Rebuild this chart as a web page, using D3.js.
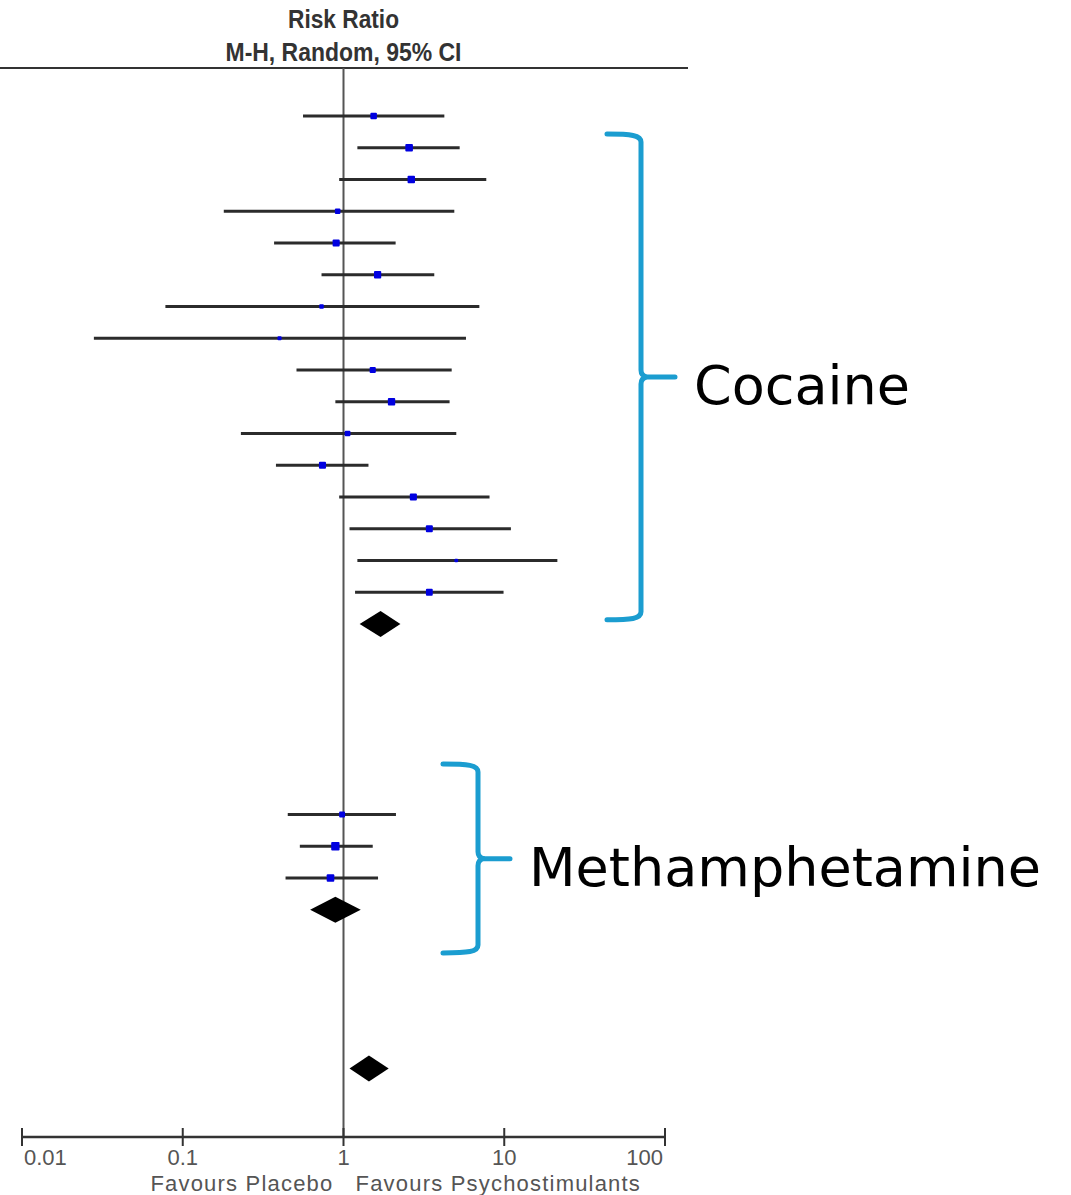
<!DOCTYPE html>
<html>
<head>
<meta charset="utf-8">
<script src="https://cdn.jsdelivr.net/npm/d3@7"></script>
<style>
  body { margin: 0; background: #fff; }
  svg { display: block; }
  .tick-label { font-family: "Liberation Sans", Arial, sans-serif; font-size: 22px; fill: #555; }
  .head { font-family: "Liberation Sans Narrow", "Liberation Sans", Arial, sans-serif; font-weight: bold; fill: #333; }
  .group-label { font-family: "DejaVu Sans", sans-serif; font-size: 54px; fill: #000; }
</style>
</head>
<body>
<div id="forest"></div>
<script>
// study estimates (risk ratio, lower, upper 95% CI) and weights
var cocaine_rr    = [1.54, 2.56, 2.64, 0.92, 0.90, 1.63, 0.73, 0.40, 1.52, 1.99, 1.06, 0.74, 2.72, 3.42, 5.03, 3.42];
var cocaine_lo    = [0.56, 1.22, 0.94, 0.18, 0.37, 0.73, 0.078, 0.028, 0.51, 0.89, 0.23, 0.38, 0.94, 1.09, 1.22, 1.18];
var cocaine_hi    = [4.24, 5.28, 7.73, 4.89, 2.11, 3.67, 7.0, 5.78, 4.71, 4.57, 5.03, 1.43, 8.1, 11.0, 21.4, 9.9];
var cocaine_w     = [5.5, 7.5, 7.2, 4.0, 6.5, 6.8, 2.8, 2.2, 5.0, 7.0, 4.2, 6.5, 6.5, 6.2, 1.8, 6.0];
var cocaine_total = [1.70, 1.26, 2.26];

var meth_rr    = [0.98, 0.89, 0.83];
var meth_lo    = [0.45, 0.535, 0.436];
var meth_hi    = [2.12, 1.52, 1.64];
var meth_w     = [4.5, 9.0, 7.5];
var meth_total = [0.89, 0.62, 1.28];

var overall_total = [1.44, 1.09, 1.91];

var tick_values = [0.01, 0.1, 1, 10, 100];
var tick_labels = ["0.01", "0.1", "1", "10", "100"];
var favours = ["Favours Placebo", "Favours Psychostimulants"];
var header = ["Risk Ratio", "M-H, Random, 95% CI"];
var groups = ["Cocaine", "Methamphetamine"];

// row layout (RevMan style table rows)
var cocaine_start = 0, meth_start = 22, overall_row = 30;

var width = 1071, height = 1195;
var svg = d3.select("#forest").append("svg")
    .attr("width", width)
    .attr("height", height);

var x = d3.scaleLog()
    .domain([0.01, 100])
    .range([22, 665]);

var y = d3.scaleLinear()
    .domain([0, 30])
    .range([116, 1068.5]);

var size = d3.scaleSqrt()
    .domain([0, 10])
    .range([0, 8.8]);

var axis_y = 1137, head_y = 68;

// build study rows
var studies = [];
cocaine_rr.forEach(function(d, i){
  studies.push({rr: d, lo: cocaine_lo[i], hi: cocaine_hi[i], w: cocaine_w[i], row: cocaine_start + i});
});
meth_rr.forEach(function(d, i){
  studies.push({rr: d, lo: meth_lo[i], hi: meth_hi[i], w: meth_w[i], row: meth_start + i});
});

var pooled = [
  {est: cocaine_total[0], lo: cocaine_total[1], hi: cocaine_total[2], row: cocaine_start + cocaine_rr.length},
  {est: meth_total[0], lo: meth_total[1], hi: meth_total[2], row: meth_start + meth_rr.length},
  {est: overall_total[0], lo: overall_total[1], hi: overall_total[2], row: overall_row}
];

// header
svg.selectAll(".head").data(header).enter().append("text")
    .attr("class", "head")
    .attr("x", x(1))
    .attr("y", function(d, i){ return i == 0 ? 28 : 61; })
    .attr("text-anchor", "middle")
    .style("font-size", "26px")
    .attr("textLength", function(d, i){ return i == 0 ? 111 : 236; })
    .attr("lengthAdjust", "spacingAndGlyphs")
    .text(function(d){ return d; });

svg.append("line")
    .attr("x1", 0).attr("x2", 688)
    .attr("y1", head_y).attr("y2", head_y)
    .style("stroke", "#333").style("stroke-width", 2);

// line of no effect
svg.append("line")
    .attr("x1", x(1)).attr("x2", x(1))
    .attr("y1", head_y).attr("y2", axis_y)
    .style("stroke", "#555").style("stroke-width", 2);

// confidence intervals
svg.append("g").selectAll("line").data(studies).enter().append("line")
    .attr("x1", function(d){ return x(d.lo); })
    .attr("x2", function(d){ return x(d.hi); })
    .attr("y1", function(d){ return y(d.row); })
    .attr("y2", function(d){ return y(d.row); })
    .style("stroke", "#2b2b2b")
    .style("stroke-width", 2.8);

// weight squares
svg.append("g").selectAll("rect").data(studies).enter().append("rect")
    .attr("x", function(d){ return x(d.rr) - size(d.w) / 2; })
    .attr("y", function(d){ return y(d.row) - size(d.w) / 2; })
    .attr("width", function(d){ return size(d.w); })
    .attr("height", function(d){ return size(d.w); })
    .attr("rx", 1)
    .style("fill", "#0000e0");

// pooled diamonds
var dh = 13;
svg.append("g").selectAll("path").data(pooled).enter().append("path")
    .attr("d", function(d){
      var cy = y(d.row);
      return "M" + x(d.lo) + "," + cy +
        "L" + x(d.est) + "," + (cy - dh) +
        "L" + x(d.hi) + "," + cy +
        "L" + x(d.est) + "," + (cy + dh) + "Z";
    })
    .style("fill", "#000");

// x axis
var axis = svg.append("g").attr("class", "axis");
axis.append("line")
    .attr("x1", x(0.01)).attr("x2", x(100))
    .attr("y1", axis_y).attr("y2", axis_y)
    .style("stroke", "#333").style("stroke-width", 2.5);
axis.selectAll(".tk").data(tick_values).enter().append("line")
    .attr("x1", function(d){ return x(d); })
    .attr("x2", function(d){ return x(d); })
    .attr("y1", axis_y - 9).attr("y2", axis_y + 9)
    .style("stroke", "#333").style("stroke-width", 2);
axis.selectAll(".tick-label").data(tick_values).enter().append("text")
    .attr("class", "tick-label")
    .attr("x", function(d, i){ return x(d) + (i == 0 ? 2 : i == tick_values.length - 1 ? -2 : 0); })
    .attr("y", axis_y + 28)
    .attr("text-anchor", function(d, i){ return i == 0 ? "start" : i == tick_values.length - 1 ? "end" : "middle"; })
    .text(function(d, i){ return tick_labels[i]; });

axis.selectAll(".fav").data(favours).enter().append("text")
    .attr("class", "tick-label")
    .attr("x", function(d, i){ return i == 0 ? x(1) - 10 : x(1) + 12; })
    .attr("y", axis_y + 54)
    .attr("text-anchor", function(d, i){ return i == 0 ? "end" : "start"; })
    .style("letter-spacing", "1.2px")
    .text(function(d){ return d; });

// subgroup brackets
var brackets = [
  {label: groups[0], top: 0.57, mid: 8.22, bottom: 15.87, xe: 607, xs: 641, xt: 675},
  {label: groups[1], top: 20.41, mid: 23.39, bottom: 26.36, xe: 443, xs: 478, xt: 510}
];

function bracePath(b){
  var yt = y(b.top), ym = y(b.mid), yb = y(b.bottom);
  return "M" + b.xe + "," + yt +
    "C" + (b.xs - 10) + "," + yt + " " + b.xs + "," + (yt + 1) + " " + b.xs + "," + (yt + 8) +
    "L" + b.xs + "," + (ym - 7) +
    "Q" + b.xs + "," + (ym - 1) + " " + (b.xs + 6) + "," + ym +
    "L" + b.xt + "," + ym +
    "M" + (b.xs + 6) + "," + ym +
    "Q" + b.xs + "," + (ym + 1) + " " + b.xs + "," + (ym + 7) +
    "L" + b.xs + "," + (yb - 8) +
    "C" + b.xs + "," + (yb - 1) + " " + (b.xs - 10) + "," + yb + " " + b.xe + "," + yb;
}

var br = svg.append("g").selectAll("g").data(brackets).enter().append("g");
br.append("path")
    .attr("d", bracePath)
    .style("fill", "none")
    .style("stroke", "#1b9dd0")
    .style("stroke-width", 5)
    .style("stroke-linecap", "round")
    .style("stroke-linejoin", "round");
br.append("text")
    .attr("class", "group-label")
    .attr("x", function(d){ return d.xt + 19; })
    .attr("y", function(d){ return y(d.mid) + 27; })
    .text(function(d){ return d.label; });
</script>
</body>
</html>
